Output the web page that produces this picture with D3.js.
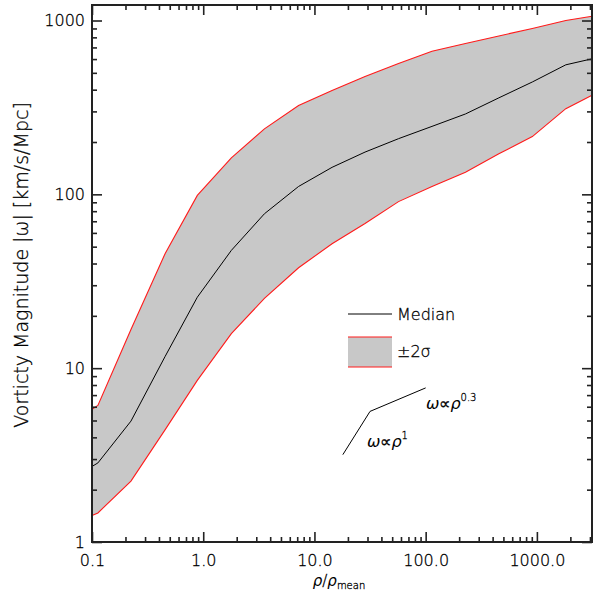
<!DOCTYPE html>
<html>
<head>
<meta charset="utf-8">
<script src="https://cdn.jsdelivr.net/npm/d3@7"></script>
<style>
  body { margin: 0; background: #fff; }
  svg text { font-family: "DejaVu Sans", sans-serif; font-weight: 200; fill: #000; stroke: #000; stroke-width: 0.3; }
  svg text tspan.it { font-style: italic; stroke-width: 0; }
</style>
</head>
<body>
<svg id="chart" width="598" height="597"></svg>
<script>
// density bins (rho / rho_mean)
const rho = [0.1, 0.113, 0.224, 0.455, 0.885, 1.79, 3.55, 7.2, 14.4, 28.5, 57, 114, 228, 455, 910, 1820, 3130];
// median vorticity |w| [km/s/Mpc]
const median = [2.72, 2.85, 4.96, 11.7, 25.6, 47.6, 77.3, 111, 143, 175, 209, 246, 290, 359, 443, 556, 602];
// +2 sigma / -2 sigma envelope
const upper = [5.8, 6.1, 16.7, 45.7, 98.6, 162, 238, 324, 396, 476, 566, 666, 738, 815, 899, 1000, 1059];
const lower = [1.42, 1.47, 2.24, 4.43, 8.51, 15.8, 25.2, 37.8, 52, 68, 90.8, 111, 134, 171, 215, 311, 371];

// power-law guide lines
const guide = [{ x: 18, y: 3.18 }, { x: 31.6, y: 5.64 }, { x: 100, y: 7.7 }];

const xMajor = [0.1, 1, 10, 100, 1000];
const xLabels = ['0.1', '1.0', '10.0', '100.0', '1000.0'];
const yMajor = [1, 10, 100, 1000];
const yLabels = ['1', '10', '100', '1000'];

const margin = { left: 92, right: 6, top: 5, bottom: 55 };
const W = 598, H = 597;
const svg = d3.select('#chart');

const x = d3.scaleLog().domain([0.1, 3130]).range([margin.left, W - margin.right]);
const y = d3.scaleLog().domain([1, 1228]).range([H - margin.bottom, margin.top]);

const minorOf = (dom) => {
  const out = [];
  for (let p = -1; p <= 3; p++) for (let k = 2; k <= 9; k++) {
    const v = k * Math.pow(10, p);
    if (v > dom[0] && v < dom[1]) out.push(v);
  }
  return out;
};

const rows = rho.map((r, i) => ({ r, m: median[i], hi: upper[i], lo: lower[i] }));

// band
svg.append('path')
  .datum(rows)
  .attr('fill', '#c8c8c8')
  .attr('d', d3.area().x(d => x(d.r)).y0(d => y(d.lo)).y1(d => y(d.hi)));

const line = (key) => d3.line().x(d => x(d.r)).y(d => y(d[key]));
svg.append('path').datum(rows).attr('fill', 'none').attr('stroke', '#ff1a1a').attr('stroke-width', 1.1).attr('d', line('hi'));
svg.append('path').datum(rows).attr('fill', 'none').attr('stroke', '#ff1a1a').attr('stroke-width', 1.1).attr('d', line('lo'));
svg.append('path').datum(rows).attr('fill', 'none').attr('stroke', '#000').attr('stroke-width', 1).attr('d', line('m'));

// guide lines
svg.append('path').datum(guide)
  .attr('fill', 'none').attr('stroke', '#000').attr('stroke-width', 1)
  .attr('d', d3.line().x(d => x(d.x)).y(d => y(d.y)));

// axes
const axisStyle = g => {
  g.select('.domain').remove();
  g.selectAll('.tick line').attr('stroke', '#222').attr('stroke-width', 1.6);
  g.selectAll('text').attr('font-size', 16).attr('fill', '#000');
};
const bottomY = H - margin.bottom, topY = margin.top, leftX = margin.left, rightX = W - margin.right;

svg.append('g').attr('transform', `translate(0,${bottomY})`)
  .call(d3.axisBottom(x).tickValues(xMajor).tickFormat((d, i) => xLabels[i]).tickSizeInner(-10).tickSizeOuter(0).tickPadding(13))
  .call(axisStyle);
svg.append('g').attr('transform', `translate(0,${bottomY})`)
  .call(d3.axisBottom(x).tickValues(minorOf(x.domain())).tickFormat('').tickSizeInner(-5).tickSizeOuter(0))
  .call(axisStyle);
svg.append('g').attr('transform', `translate(0,${topY})`)
  .call(d3.axisTop(x).tickValues(xMajor).tickFormat('').tickSizeInner(-10).tickSizeOuter(0))
  .call(axisStyle);
svg.append('g').attr('transform', `translate(0,${topY})`)
  .call(d3.axisTop(x).tickValues(minorOf(x.domain())).tickFormat('').tickSizeInner(-5).tickSizeOuter(0))
  .call(axisStyle);

svg.append('g').attr('transform', `translate(${leftX},0)`)
  .call(d3.axisLeft(y).tickValues(yMajor).tickFormat((d, i) => yLabels[i]).tickSizeInner(-10).tickSizeOuter(0).tickPadding(7))
  .call(axisStyle);
svg.append('g').attr('transform', `translate(${leftX},0)`)
  .call(d3.axisLeft(y).tickValues(minorOf(y.domain())).tickFormat('').tickSizeInner(-5).tickSizeOuter(0))
  .call(axisStyle);
svg.append('g').attr('transform', `translate(${rightX},0)`)
  .call(d3.axisRight(y).tickValues(yMajor).tickFormat('').tickSizeInner(-10).tickSizeOuter(0))
  .call(axisStyle);
svg.append('g').attr('transform', `translate(${rightX},0)`)
  .call(d3.axisRight(y).tickValues(minorOf(y.domain())).tickFormat('').tickSizeInner(-5).tickSizeOuter(0))
  .call(axisStyle);

// frame
svg.append('rect')
  .attr('x', leftX).attr('y', topY)
  .attr('width', rightX - leftX).attr('height', bottomY - topY)
  .attr('fill', 'none').attr('stroke', '#222').attr('stroke-width', 2);

// axis titles
svg.append('text')
  .attr('x', (leftX + rightX) / 2 - 3).attr('y', 586)
  .attr('text-anchor', 'middle').attr('font-size', 15)
  .html('<tspan class="it">ρ</tspan>/<tspan class="it">ρ</tspan><tspan font-size="10" dy="3">mean</tspan>');

svg.append('text')
  .attr('transform', 'translate(28,265) rotate(-90)')
  .attr('text-anchor', 'middle').attr('font-size', 19)
  .text('Vorticty Magnitude |ω| [km/s/Mpc]');

// legend
const lg = svg.append('g');
lg.append('line').attr('x1', 348).attr('x2', 392).attr('y1', 314).attr('y2', 314)
  .attr('stroke', '#000').attr('stroke-width', 1);
lg.append('text').attr('x', 397).attr('y', 320).attr('font-size', 16).text('Median');
lg.append('rect').attr('x', 348).attr('y', 337).attr('width', 44).attr('height', 30).attr('fill', '#c8c8c8');
lg.append('line').attr('x1', 348).attr('x2', 392).attr('y1', 337).attr('y2', 337).attr('stroke', '#ff1a1a').attr('stroke-width', 1.2);
lg.append('line').attr('x1', 348).attr('x2', 392).attr('y1', 367).attr('y2', 367).attr('stroke', '#ff1a1a').attr('stroke-width', 1.2);
lg.append('text').attr('x', 397).attr('y', 357).attr('font-size', 16).text('±2σ');

// guide labels
svg.append('text').attr('x', 367).attr('y', 447).attr('font-size', 16)
  .html('<tspan class="it">ω</tspan>∝<tspan class="it">ρ</tspan><tspan font-size="10" dy="-8">1</tspan>');
svg.append('text').attr('x', 426).attr('y', 409).attr('font-size', 16)
  .html('<tspan class="it">ω</tspan>∝<tspan class="it">ρ</tspan><tspan font-size="10" dy="-8">0.3</tspan>');
</script>
</body>
</html>
